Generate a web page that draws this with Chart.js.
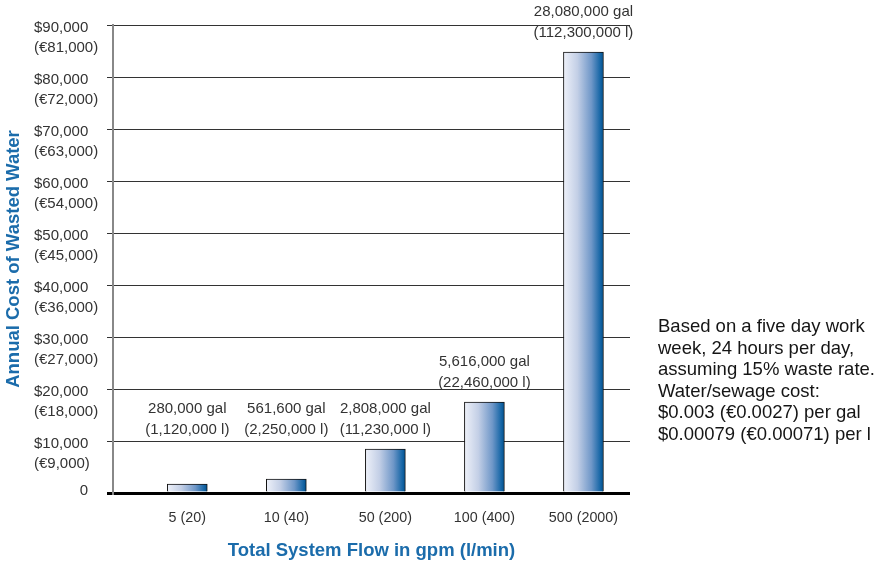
<!DOCTYPE html>
<html>
<head>
<meta charset="utf-8">
<script src="https://cdn.jsdelivr.net/npm/chart.js@4.4.0/dist/chart.umd.min.js"></script>
<style>
body { margin: 0; background: #fff; }
#wrap { width: 884px; height: 562px; }
</style>
</head>
<body>
<div id="wrap"><canvas id="chart"></canvas></div>
<script>
const flows = ['5 (20)', '10 (40)', '50 (200)', '100 (400)', '500 (2000)'];
const costs = [1700, 2700, 8450, 17500, 84800];
const gallons = ['280,000 gal', '561,600 gal', '2,808,000 gal', '5,616,000 gal', '28,080,000 gal'];
const litres = ['(1,120,000 l)', '(2,250,000 l)', '(11,230,000 l)', '(22,460,000 l)', '(112,300,000 l)'];
const usdTicks = ['0', '$10,000', '$20,000', '$30,000', '$40,000', '$50,000', '$60,000', '$70,000', '$80,000', '$90,000'];
const eurTicks = ['', '(€9,000)', '(€18,000)', '(€27,000)', '(€36,000)', '(€45,000)', '(€54,000)', '(€63,000)', '(€72,000)', '(€81,000)'];
const note = [
    'Based on a five day work',
    'week, 24 hours per day,',
    'assuming 15% waste rate.',
    'Water/sewage cost:',
    '$0.003 (€0.0027) per gal',
    '$0.00079 (€0.00071) per l'
];

const FONT = "'Liberation Sans', Arial, sans-serif";
const blue = '#1b6cab';
const textColor = '#333';

Chart.defaults.font.family = FONT;
Chart.defaults.color = textColor;

// etiquetas encima de cada barra
const barLabels = {
    id: 'barLabels',
    afterDatasetsDraw(chart) {
        const { ctx, scales: { y } } = chart;
        const meta = chart.getDatasetMeta(0);
        ctx.save();
        ctx.font = `15px ${FONT}`;
        ctx.fillStyle = textColor;
        ctx.textAlign = 'center';
        ctx.textBaseline = 'middle';
        meta.data.forEach((bar, i) => {
            const base = y.getPixelForValue(Math.max(costs[i], costs[2])) - 19;
            ctx.fillText(litres[i], bar.x, base);
            ctx.fillText(gallons[i], bar.x, base - 21);
        });
        ctx.restore();
    }
};

// nota a la derecha
const sideNote = {
    id: 'sideNote',
    afterDraw(chart) {
        const { ctx, chartArea } = chart;
        ctx.save();
        ctx.font = `18.5px ${FONT}`;
        ctx.fillStyle = '#151515';
        ctx.textAlign = 'left';
        ctx.textBaseline = 'middle';
        note.forEach((line, i) => {
            ctx.fillText(line, chartArea.right + 28, 327 + i * 21.5);
        });
        ctx.restore();
    }
};

const ctx = document.getElementById('chart').getContext('2d');

new Chart(ctx, {
    type: 'bar',
    data: {
        datasets: [{
            data: flows.map((f, i) => ({ x: i, y: costs[i] })),
            barThickness: 40,
            borderWidth: 1,
            borderColor: '#111',
            backgroundColor: (c) => {
                const chart = c.chart;
                if (!chart.chartArea || c.dataIndex === undefined) return '#7b9fcc';
                const x = chart.scales.x.getPixelForValue(c.dataIndex);
                const g = chart.ctx.createLinearGradient(x - 20, 0, x + 20, 0);
                g.addColorStop(0, '#eef1f9');
                g.addColorStop(0.35, '#c3cfe6');
                g.addColorStop(0.7, '#6f97c8');
                g.addColorStop(0.92, '#1666a6');
                g.addColorStop(1, '#00508e');
                return g;
            }
        }]
    },
    options: {
        responsive: true,
        maintainAspectRatio: false,
        animation: false,
        layout: { padding: { left: 34, top: 25, right: 254, bottom: 0 } },
        plugins: {
            legend: { display: false },
            tooltip: { enabled: false }
        },
        scales: {
            x: {
                type: 'linear',
                offset: false,
                min: -0.75,
                max: 4.47,
                grid: { display: false, drawTicks: false, offset: false },
                border: { display: false },
                ticks: {
                    stepSize: 1,
                    includeBounds: false,
                    autoSkip: false,
                    maxRotation: 0,
                    padding: 16,
                    color: textColor,
                    font: { size: 14.3 },
                    callback: (v) => flows[v] ?? ''
                },
                title: {
                    display: true,
                    text: 'Total System Flow in gpm (l/min)',
                    color: blue,
                    font: { size: 18.5, weight: 'bold' },
                    padding: { top: 0, bottom: 0 }
                },
                afterFit: (s) => { s.height = 69; }
            },
            y: {
                min: 0,
                max: 90000,
                ticks: {
                    stepSize: 10000,
                    autoSkip: false,
                    crossAlign: 'far',
                    labelOffset: 13,
                    color: textColor,
                    font: (c) => ({ size: 15, lineHeight: (c.tick && c.tick.value === 0) ? 2 : 1.37 }),
                    callback: (v) => {
                        const i = Math.round(v / 10000);
                        return i === 0 ? [' '.repeat(11) + usdTicks[0], ''] : [usdTicks[i], eurTicks[i]];
                    }
                },
                grid: {
                    color: (c) => (c.tick && c.tick.value === 0) ? '#000' : '#333',
                    lineWidth: (c) => (c.tick && c.tick.value === 0) ? 3 : 1,
                    tickLength: 6
                },
                border: { display: true, color: '#888', width: 2 },
                title: {
                    display: true,
                    text: 'Annual Cost of Wasted Water',
                    color: blue,
                    font: { size: 18.5, weight: 'bold' },
                    padding: { top: -31, bottom: 0 }
                },
                afterFit: (s) => { s.width = 79; }
            }
        }
    },
    plugins: [barLabels, sideNote]
});
</script>
</body>
</html>
